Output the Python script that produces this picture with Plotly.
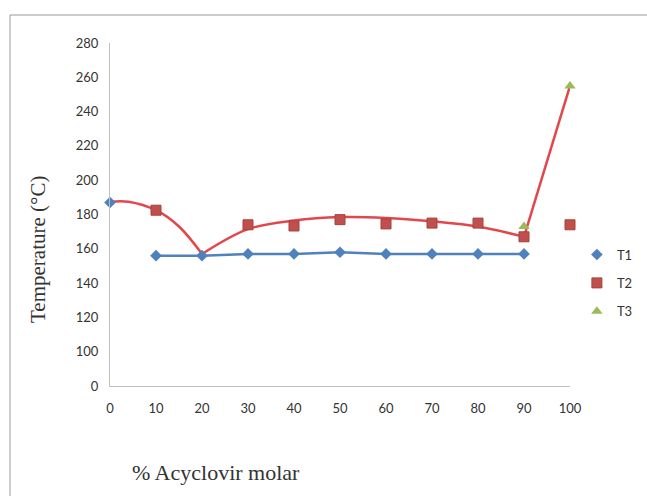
import plotly.graph_objects as go

# ---- data ----
x_vals = [0, 10, 20, 30, 40, 50, 60, 70, 80, 90, 100]
t1_x = [10, 20, 30, 40, 50, 60, 70, 80, 90]
t1_y = [156, 156, 157, 157, 158, 157, 157, 157, 157]
t1_start_x = [0]
t1_start_y = [187]
t2_x = [10, 30, 40, 50, 60, 70, 80, 90, 100]
t2_y = [182.5, 174, 173.3, 177, 174.5, 175, 175, 167, 174]
t3_x = [90, 100]
t3_y = [173, 255]

# hand-drawn trend curve (three pieces)
curve1_x = [0, 4, 10, 15, 20]
curve1_y = [187.5, 187.5, 182.5, 173, 157]
curve2_x = [20, 30, 40, 50, 60, 70, 80, 90]
curve2_y = [157, 171.5, 176.5, 178.5, 178, 176, 173, 167]
curve3_x = [90, 100]
curve3_y = [167, 255]

y_ticks = [80, 100, 120, 140, 160, 180, 200, 220, 240, 260, 280]
y_ticktext = ["0", "100", "120", "140", "160", "180", "200", "220", "240", "260", "280"]
x_ticks = [0, 10, 20, 30, 40, 50, 60, 70, 80, 90, 100]

BLUE = "#4F81BD"
RED = "#C0504D"
GREEN = "#9BBB59"
CURVE = "#E2474B"
TICKFONT = dict(family="Lato, Open Sans, sans-serif", size=13, color="#333333")

fig = go.Figure()

for cx, cy, shp in [(curve1_x, curve1_y, "spline"), (curve2_x, curve2_y, "spline"), (curve3_x, curve3_y, "linear")]:
    fig.add_trace(go.Scatter(x=cx, y=cy, mode="lines", line=dict(color=CURVE, width=2.5, shape=shp, smoothing=1.0),
                             showlegend=False, hoverinfo="skip", cliponaxis=False))

fig.add_trace(go.Scatter(x=t1_x, y=t1_y, mode="lines", name="T1", legendgroup="T1", showlegend=False,
                         line=dict(color=BLUE, width=2.5), cliponaxis=False))
fig.add_trace(go.Scatter(x=t1_start_x + t1_x, y=t1_start_y + t1_y, mode="markers", name="T1", legendgroup="T1",
                         marker=dict(symbol="diamond", size=9, color=BLUE), cliponaxis=False))
fig.add_trace(go.Scatter(x=t2_x, y=t2_y, mode="markers", name="T2", legendgroup="T2", cliponaxis=False,
                         marker=dict(symbol="square", size=10, color=RED, line=dict(color="#A8403D", width=1))))
fig.add_trace(go.Scatter(x=t3_x, y=t3_y, mode="markers", name="T3", legendgroup="T3", cliponaxis=False,
                         marker=dict(symbol="triangle-up", size=10, color=GREEN)))

fig.update_layout(
    width=647, height=496,
    margin=dict(l=110, r=77, t=43, b=110, autoexpand=False),
    paper_bgcolor="white", plot_bgcolor="white",
    xaxis=dict(range=[0, 100], tickvals=x_ticks, showgrid=False, zeroline=False,
               showline=True, linecolor="#BFBFBF", linewidth=1,
               ticks="outside", ticklen=10, tickcolor="rgba(0,0,0,0)", tickfont=TICKFONT),
    yaxis=dict(range=[80, 280], tickvals=y_ticks, ticktext=y_ticktext, showgrid=False, zeroline=False,
               showline=True, linecolor="#BFBFBF", linewidth=1,
               ticks="outside", ticklen=8, tickcolor="rgba(0,0,0,0)", tickfont=TICKFONT),
    legend=dict(x=1.015, y=0.427, xanchor="left", yanchor="top", traceorder="grouped",
                tracegroupgap=8.5, font=TICKFONT, itemwidth=30, bgcolor="rgba(0,0,0,0)"),
    showlegend=True,
    annotations=[
        dict(text="Temperature (°C)", xref="paper", yref="paper",
             x=(38 - 110) / 460, y=(386 - 250) / 343, xanchor="center", yanchor="middle",
             textangle=-90, showarrow=False,
             font=dict(family="Liberation Serif, Times New Roman, serif", size=21, color="#333333")),
        dict(text="% Acyclovir molar", xref="paper", yref="paper",
             x=(130 - 110) / 460, y=(386 - 472) / 343, xanchor="left", yanchor="middle",
             showarrow=False,
             font=dict(family="Liberation Serif, Times New Roman, serif", size=22, color="#333333")),
    ],
    shapes=[
        dict(type="rect", xref="paper", yref="paper",
             x0=(10 - 110) / 460, x1=(700 - 110) / 460,
             y0=(386 - 560) / 343, y1=(386 - 15) / 343,
             line=dict(color="#9A9A9A", width=1), fillcolor="rgba(0,0,0,0)", layer="below"),
    ],
)

fig.write_html("out.html")
